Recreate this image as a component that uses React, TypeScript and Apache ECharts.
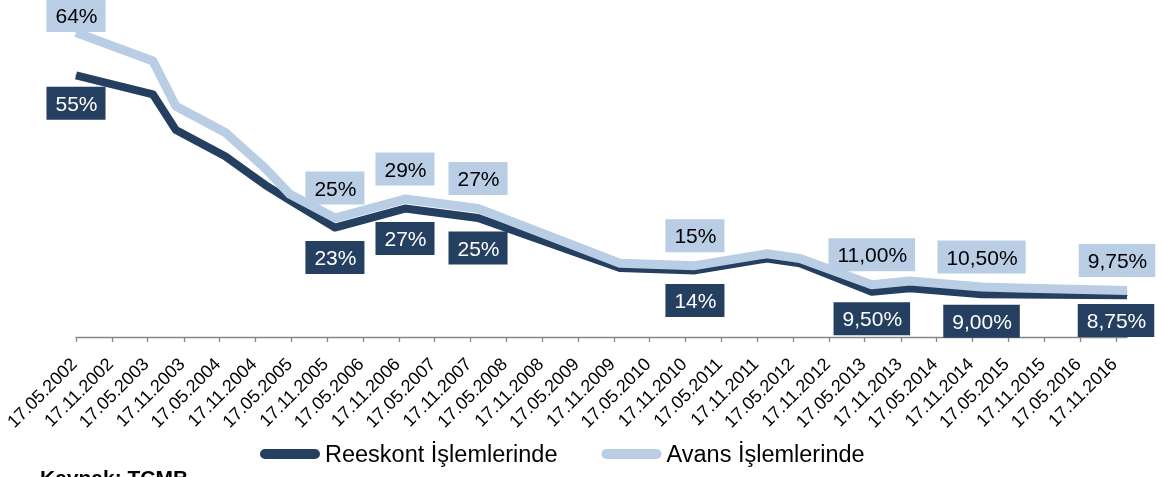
import React, { useEffect, useRef } from "react";
import * as echarts from "echarts";

const tickLabels = [
  "17.05.2002", "17.11.2002", "17.05.2003", "17.11.2003", "17.05.2004", "17.11.2004",
  "17.05.2005", "17.11.2005", "17.05.2006", "17.11.2006", "17.05.2007", "17.11.2007",
  "17.05.2008", "17.11.2008", "17.05.2009", "17.11.2009", "17.05.2010", "17.11.2010",
  "17.05.2011", "17.11.2011", "17.05.2012", "17.11.2012", "17.05.2013", "17.11.2013",
  "17.05.2014", "17.11.2014", "17.05.2015", "17.11.2015", "17.05.2016", "17.11.2016",
];

const dates = [
  "2002-05-17", "2003-06-13", "2003-10-08", "2004-06-15", "2005-01-04", "2005-05-11",
  "2005-12-26", "2006-12-18", "2007-12-25", "2009-12-17", "2011-01-03", "2012-01-05",
  "2012-06-21", "2013-06-22", "2014-01-02", "2015-01-02", "2017-01-12",
];
const reeskont = [55, 51, 43.5, 38, 32, 28.7, 23, 27, 25, 14.5, 14, 16.5, 15.5, 9.5, 10.25, 9, 8.75];
const avans = [64, 58, 48.5, 43, 35.5, 30, 25, 29, 27, 15.5, 15, 17.5, 16.5, 11, 11.75, 10.5, 9.75];
const labeledPoints = [0, 6, 7, 8, 10, 13, 15, 16];

const seriesNames = ["Reeskont İşlemlerinde", "Avans İşlemlerinde"];
const DARK = "#243F60";
const LIGHT = "#B9CDE5";
const FONT = 'Arial, "Liberation Sans", sans-serif';
const DAY = 86400000;

function isoDay(s: string) {
  const [y, m, d] = s.split("-").map(Number);
  return Math.round(Date.UTC(y, m - 1, d) / DAY);
}
function trDay(s: string) {
  const [d, m, y] = s.split(".").map(Number);
  return Math.round(Date.UTC(y, m - 1, d) / DAY);
}
function fmtPct(v: number) {
  return v >= 12 ? `${v}%` : `${v.toFixed(2).replace(".", ",")}%`;
}

export default function App() {
  const ref = useRef<HTMLDivElement>(null);
  useEffect(() => {
    if (!ref.current) return;
    const chart = echarts.init(ref.current, undefined, { renderer: "svg" });
    const tickDays = tickLabels.map(trDay);
    const labelMap = new Map<number, string>();
    tickDays.forEach((t, i) => labelMap.set(t, tickLabels[i]));

    const lastIdx = dates.length - 1;
    const darkLabel = (i: number) => {
      const l: any = { show: true, position: "bottom", distance: 13 };
      if (i === 0) l.distance = 11;
      if (i === 13 || i === 15) l.distance = 10;
      if (i === lastIdx) { l.distance = 8; l.offset = [-11, 0]; }
      return l;
    };
    const lightLabel = (i: number) => {
      const l: any = { show: true, position: "top", distance: 13 };
      if (i === 0) l.distance = 0;
      if (i === lastIdx) l.offset = [-10, 0];
      return l;
    };

    const darkData = dates.map((d, i) => {
      const item: any = { value: [isoDay(d), reeskont[i]] };
      if (labeledPoints.includes(i)) item.label = darkLabel(i);
      return item;
    });
    const lightData = dates.map((d, i) => {
      const item: any = { value: [isoDay(d), avans[i]] };
      if (labeledPoints.includes(i)) item.label = lightLabel(i);
      return item;
    });

    chart.setOption({
      animation: false,
      textStyle: { fontFamily: FONT },
      grid: { left: 76, right: 35, top: 4, bottom: 140, containLabel: false },
      xAxis: {
        type: "value",
        min: tickDays[0],
        max: isoDay(dates[lastIdx]),
        offset: 4,
        axisLine: { show: true, lineStyle: { color: "#868686", width: 1.3 } },
        axisTick: { show: true, length: 5, lineStyle: { color: "#868686", width: 1.3 }, customValues: tickDays },
        axisLabel: {
          customValues: tickDays,
          rotate: 45,
          align: "right",
          verticalAlign: "top",
          margin: 5,
          padding: [0, 12, 0, 0],
          fontSize: 18,
          color: "#000",
          fontFamily: FONT,
          formatter: (v: number) => labelMap.get(Math.round(v)) ?? "",
        },
        splitLine: { show: false },
      },
      yAxis: {
        type: "value",
        min: 0,
        max: 70,
        show: false,
        splitLine: { show: false },
      },
      legend: {
        left: 260,
        top: 442,
        padding: 0,
        itemWidth: 60,
        itemHeight: 10,
        itemGap: 44,
        icon: "path://M5 0H55A5 5 0 0 1 55 10H5A5 5 0 0 1 5 0Z",
        textStyle: { fontSize: 23.5, color: "#000", fontFamily: FONT },
        data: seriesNames,
      },
      series: [
        {
          name: seriesNames[0],
          type: "line",
          data: darkData,
          symbol: "circle",
          symbolSize: 1,
          showSymbol: true,
          itemStyle: { color: DARK },
          lineStyle: { color: DARK, width: 8, join: "round", cap: "butt" },
          label: {
            show: false,
            formatter: (p: any) => fmtPct(p.value[1]),
            fontSize: 21,
            lineHeight: 21,
            color: "#fff",
            backgroundColor: DARK,
            padding: [6, 8, 6, 9],
            fontFamily: FONT,
          },
          z: 2,
        },
        {
          name: seriesNames[1],
          type: "line",
          data: lightData,
          symbol: "circle",
          symbolSize: 1,
          showSymbol: true,
          itemStyle: { color: LIGHT },
          lineStyle: { color: LIGHT, width: 9, join: "round", cap: "butt" },
          label: {
            show: false,
            formatter: (p: any) => fmtPct(p.value[1]),
            fontSize: 21,
            lineHeight: 21,
            color: "#000",
            backgroundColor: LIGHT,
            padding: [6, 8, 6, 9],
            fontFamily: FONT,
          },
          z: 3,
        },
      ],
      graphic: [
        {
          type: "text",
          left: 40,
          top: 467,
          style: { text: "Kaynak: TCMB", font: `bold 21px ${FONT}`, fill: "#000" },
        },
      ],
    });
    return () => chart.dispose();
  }, []);
  return (
    <div
      ref={ref}
      style={{ position: "fixed", left: 0, top: 0, width: 1162, height: 477 }}
    />
  );
}
